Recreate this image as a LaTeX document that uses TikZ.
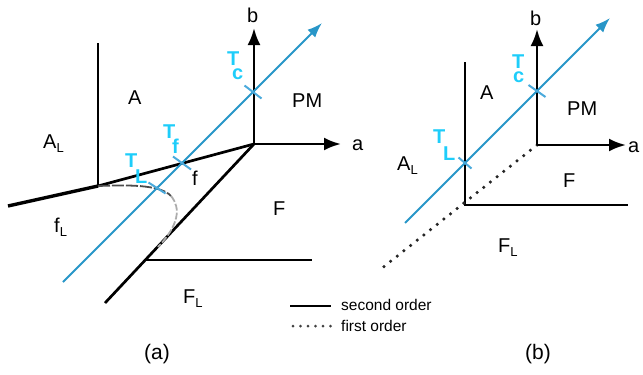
\documentclass[tikz,border=0pt]{standalone}
\usepackage{fontspec}
\setmainfont{Liberation Sans}
\usetikzlibrary{arrows.meta}
\definecolor{pathblue}{RGB}{40,150,200}
\definecolor{tickblue}{RGB}{75,170,220}
\definecolor{lblcyan}{RGB}{30,205,250}
\newcommand{\lsub}[1]{\raisebox{-0.45ex}{\fontsize{13}{13}\selectfont #1}}
\newcommand{\tlab}[3]{T\kern#2\raisebox{#3}{#1}}
\begin{document}
\begin{tikzpicture}[x=1pt,y=-1pt,
  ph/.style={line width=2.7pt, black},
  axis/.style={line width=2.7pt, black, -{Latex[length=17pt,width=13pt]}},
  phasepath/.style={line width=2pt, pathblue, -{Latex[length=15pt,width=11pt]}},
  tickmark/.style={line width=2pt, tickblue},
  lbl/.style={font=\fontsize{20}{20}\selectfont, inner sep=0pt, anchor=base west},
  tlbl/.style={font=\fontsize{20}{20}\selectfont\bfseries, text=lblcyan, inner sep=0pt, anchor=base west},
  firstorder/.style={line width=3.5pt, dash pattern=on 0pt off 8.5pt, line cap=round, black!85},
  leg/.style={font=\fontsize{15.5}{15.5}\selectfont, inner sep=0pt, anchor=base west},
  caplbl/.style={font=\fontsize{21}{21}\selectfont, inner sep=0pt, anchor=center}
]
\useasboundingbox (0,0) rectangle (643,375);
% ---------- panel (a) ----------
\coordinate (oa) at (254,144);
\coordinate (btipa) at (254,28);
\coordinate (atipa) at (341,144);
\coordinate (va1) at (98,43);
\coordinate (va2) at (98,186);
\coordinate (la) at (8,206);
\coordinate (da) at (105,303);
\coordinate (fa) at (145,260);
\coordinate (ha) at (312,260);
\coordinate (pa1) at (63,282);
\coordinate (pa2) at (322,23);
\coordinate (tca) at (253,92);
\coordinate (tfa) at (182,163);
\coordinate (tla) at (157,188);
\coordinate (cva) at (171,196);
\coordinate (cvb) at (158,247);

\draw[line width=3.4pt] (la) -- (va2);
\draw[ph] (va2) -- (oa);
\draw[ph] (va1) -- (va2);
\draw[ph] (oa) -- (da);
\draw[ph] (fa) -- (ha);
\draw[line width=1.8pt, black!70, dash pattern=on 12pt off 2pt]
  (va2) .. controls (125,185) and (160,184) .. (cva);
\draw[line width=1.8pt, gray!65, dash pattern=on 7pt off 2pt]
  (cva) .. controls (181,208) and (179,225) .. (cvb);
\draw[axis] (oa) -- (btipa);
\draw[axis] (oa) -- (atipa);
\draw[phasepath] (pa1) -- (pa2);
\draw[tickmark] ([shift={(-8.5,-6.5)}]tca) -- ([shift={(8.5,6.5)}]tca);
\draw[tickmark] ([shift={(-9,-6.5)}]tfa) -- ([shift={(9,6.5)}]tfa);
\draw[tickmark] ([shift={(-8.5,-5.5)}]tla) -- ([shift={(8.5,5.5)}]tla);

\node[tlbl] (tca-l) at (227,65) {\tlab{c}{-7.2pt}{-14pt}};
\node[tlbl] (tfa-l) at (163,138) {\tlab{f}{-3.2pt}{-15pt}};
\node[tlbl] (tla-l) at (125,167) {\tlab{L}{-2.2pt}{-16pt}};

\node[lbl] (A1) at (128,104) {A};
\node[lbl] (AL1) at (43,148) {A\lsub{L}};
\node[lbl] (PM1) at (292,107) {PM};
\node[lbl] (f1) at (192,185) {f};
\node[lbl] (fL1) at (54,232) {f\lsub{L}};
\node[lbl] (F1) at (273,215) {F};
\node[lbl] (FL1) at (183,303) {F\lsub{L}};
\node[lbl] (b1) at (247,22) {b};
\node[lbl] (a1) at (352,150) {a};
\node[caplbl] (capa) at (157,354) {(a)};

% ---------- panel (b) ----------
\coordinate (ob) at (537,145);
\coordinate (btipb) at (537,29);
\coordinate (atipb) at (626,145);
\coordinate (vb1) at (465,62);
\coordinate (vb2) at (465,205);
\coordinate (hb) at (628,205);
\coordinate (db) at (381,269);
\coordinate (pb1) at (405,223);
\coordinate (pb2) at (610,18);
\coordinate (tlb) at (465,163);
\coordinate (tcb) at (537,91);

\draw[ph] (vb1) -- (vb2) -- (hb);
\draw[firstorder] (ob) -- (db);
\draw[axis] (ob) -- (btipb);
\draw[axis] (ob) -- (atipb);
\draw[phasepath] (pb1) -- (pb2);
\draw[tickmark] ([shift={(-6.5,-5.5)}]tlb) -- ([shift={(6.5,5.5)}]tlb);
\draw[tickmark] ([shift={(-8.5,-6)}]tcb) -- ([shift={(8.5,6)}]tcb);

\node[tlbl] (tcb-l) at (512,68) {\tlab{c}{-11.2pt}{-14pt}};
\node[tlbl] (tlb-l) at (433,143) {\tlab{L}{-2.2pt}{-17pt}};

\node[lbl] (A2) at (480,99) {A};
\node[lbl] (PM2) at (567,115) {PM};
\node[lbl] (AL2) at (397,170) {A\lsub{L}};
\node[lbl] (F2) at (563,187) {F};
\node[lbl] (FL2) at (498,252) {F\lsub{L}};
\node[lbl] (b2) at (530,25) {b};
\node[lbl] (a2) at (628,152) {a};
\node[caplbl] (capb) at (538,354) {(b)};

% ---------- legend ----------
\coordinate (ls1) at (290,306);
\coordinate (ls2) at (331,306);
\coordinate (lf1) at (293,326);
\coordinate (lf2) at (331,326);
\draw[line width=2.4pt] (ls1) -- (ls2);
\draw[line width=3pt, dash pattern=on 0pt off 7.5pt, line cap=round, black!75] (lf1) -- (lf2);
\node[leg] (lsec) at (341,310) {second order};
\node[leg] (lfir) at (341,331) {first order};
\end{tikzpicture}
\end{document}
